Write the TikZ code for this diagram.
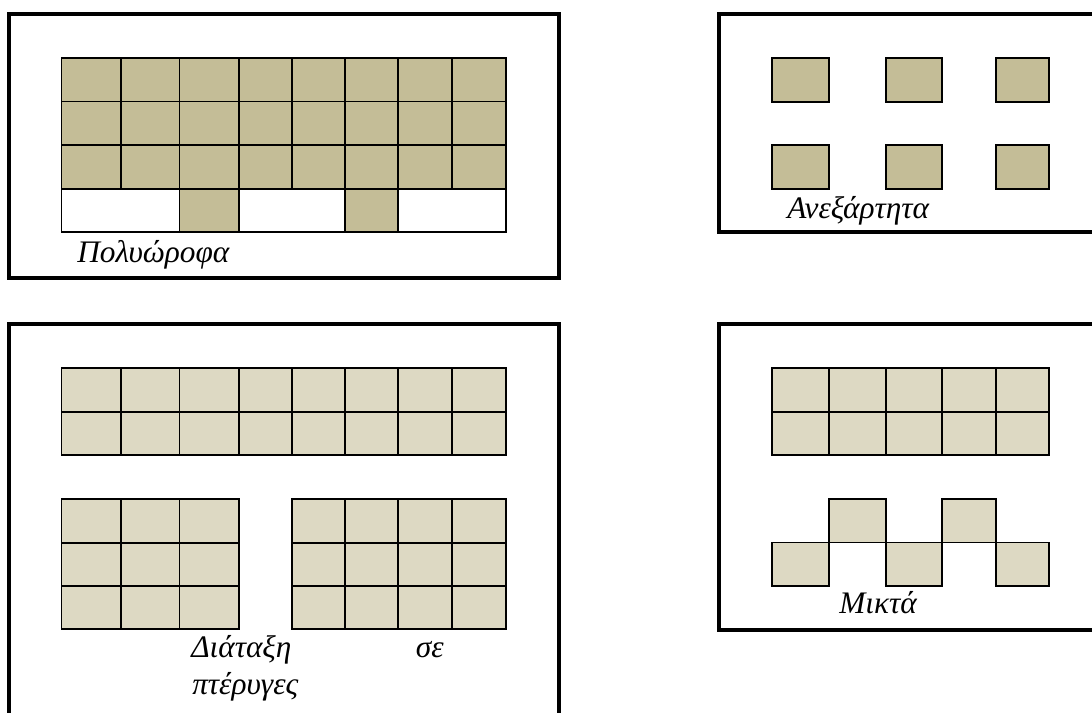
\documentclass[tikz,border=0pt]{standalone}
\usepackage{fontspec}
\setmainfont{Liberation Serif}
\definecolor{darktan}{HTML}{C4BD97}
\definecolor{lighttan}{HTML}{DDD9C3}

\begin{document}
\begin{tikzpicture}[x=0.75pt, y=-0.75pt,
      frame/.style={draw, line width=2.3pt},
      cell/.style={draw, line width=1.45pt},
      boxtext/.style={font=\fontsize{23.5}{28}\selectfont\itshape, anchor=base west, inner sep=0pt}
    ]
      \useasboundingbox (0,0) rectangle (1092,713);
      \clip (0,0) rectangle (1092,713);

      \draw[frame] (9,14) rectangle (559,278);
      \foreach \r/\s in {58/101.5, 101.5/145, 145/188.7}
        \foreach \a/\b in {61.5/121, 121/179.5, 179.5/238.6, 238.6/291.9,
                           291.9/345.2, 345.2/398.4, 398.4/452.1, 452.1/506}
          \draw[cell, fill=darktan] (\a,\r) rectangle (\b,\s);
      \draw[cell] (61.5,188.7) rectangle (506,232);
      \foreach \a/\b in {179.5/238.6, 345.2/398.4}
        \draw[cell, fill=darktan] (\a,188.7) rectangle (\b,232);
      \node[boxtext] (poly) at (77,262) {Πολυώροφα};

      \draw[frame] (719,14) rectangle (1110,232);
      \foreach \r/\s in {58/101.7, 145.3/189}
        \foreach \a/\b in {772.3/829, 885.7/942.3, 995.7/1049.3}
          \draw[cell, fill=darktan] (\a,\r) rectangle (\b,\s);
      \node[boxtext] (indep) at (787,219) {Ανεξάρτητα};

      \draw[frame] (9,324) rectangle (559,730);
      \foreach \r/\s in {368.3/411.7, 411.7/455.2}
        \foreach \a/\b in {61.5/121, 121/179.5, 179.5/238.6, 238.6/291.9,
                           291.9/345.2, 345.2/398.4, 398.4/452.1, 452.1/506}
          \draw[cell, fill=lighttan] (\a,\r) rectangle (\b,\s);
      \foreach \r/\s in {499/542.7, 542.7/586, 586/629.3}
        \foreach \a/\b in {61.5/121, 121/179.5, 179.5/238.6,
                           291.9/345.2, 345.2/398.4, 398.4/452.1, 452.1/506}
          \draw[cell, fill=lighttan] (\a,\r) rectangle (\b,\s);
      \node[boxtext] (wing1) at (191,657) {Διάταξη};
      \node[boxtext, anchor=base east] (wing2) at (444,657) {σε};
      \node[boxtext] (wing3) at (192,694) {πτέρυγες};

      \draw[frame] (719,324) rectangle (1110,630);
      \foreach \r/\s in {368.3/411.7, 411.7/455}
        \foreach \a/\b in {772.3/829, 829/885.7, 885.7/942.3, 942.3/995.7, 995.7/1049.3}
          \draw[cell, fill=lighttan] (\a,\r) rectangle (\b,\s);
      \foreach \a/\b in {829/885.7, 942.3/995.7}
        \draw[cell, fill=lighttan] (\a,499) rectangle (\b,542.5);
      \foreach \a/\b in {772.3/829, 885.7/942.3, 995.7/1049.3}
        \draw[cell, fill=lighttan] (\a,542.5) rectangle (\b,586);
      \node[boxtext] (mixed) at (839,613) {Μικτά};
    \end{tikzpicture}
\end{document}
